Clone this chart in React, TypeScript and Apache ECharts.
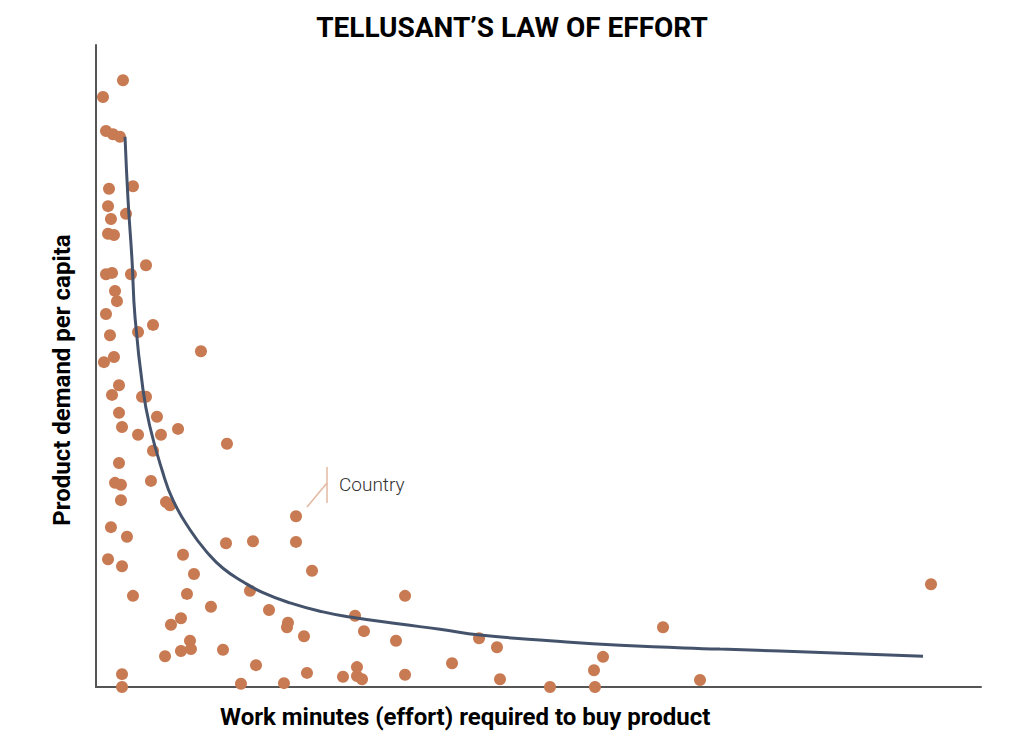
import { useEffect, useRef } from 'react'
import * as echarts from 'echarts'

// countries: work minutes (x) vs demand per capita (y), both on a 0-100 scale
const countryMinutes = [
  3.05, 0.79, 1.13, 1.92, 2.71, 4.18, 1.47, 1.36, 1.69, 3.39, 1.36, 2.03, 5.65, 1.13, 1.81, 3.95,
  2.15, 2.37, 1.13, 6.44, 1.58, 4.75, 11.86, 0.9, 2.03, 2.6, 1.81, 5.2, 5.65, 2.6, 6.89, 2.94,
  4.75, 7.34, 9.27, 6.44, 14.8, 2.6, 2.15, 2.82, 6.21, 2.82, 7.91, 8.36, 22.6, 1.69, 3.5, 14.69,
  17.74, 22.6, 1.36, 2.94, 9.83, 11.07, 24.41, 4.18, 10.28, 17.4, 12.99, 19.55, 34.92, 9.6, 8.47,
  21.69, 21.58, 29.27, 10.62, 9.6, 10.73, 7.8, 14.35, 23.5, 30.28, 33.9, 18.08, 2.94, 2.94, 16.38,
  21.24, 23.84, 27.91, 29.49, 29.49, 30.06, 34.92, 40.23, 43.28, 45.31, 45.65, 51.3, 56.38, 56.27,
  57.29, 64.07, 68.25, 94.35
]
const countryDemand = [
  94.5, 91.9, 86.6, 86.1, 85.7, 78.0, 77.6, 74.9, 72.9, 73.7, 70.6, 70.4, 65.7, 64.3, 64.5, 64.3,
  61.7, 60.1, 58.1, 56.4, 54.8, 55.3, 52.3, 50.6, 51.4, 47.0, 45.5, 45.2, 45.2, 42.7, 42.1, 40.5,
  39.3, 39.3, 40.2, 36.8, 37.9, 34.9, 31.8, 31.5, 32.1, 29.1, 28.8, 28.3, 26.6, 24.9, 23.4, 22.4,
  22.7, 22.6, 19.9, 18.8, 20.6, 17.6, 18.1, 14.2, 14.5, 15.0, 12.5, 12.0, 14.2, 10.7, 9.7,
  10.0, 9.3, 11.1, 7.2, 5.6, 5.9, 4.8, 5.8, 7.9, 8.7, 7.2, 3.4, 2.0, 0, 0.5,
  0.6, 2.2, 1.6, 3.1, 1.7, 1.2, 1.9, 3.7, 7.6, 6.2, 1.2, 0, 0, 2.6,
  4.7, 9.3, 1.1, 16.0
]

// law of effort curve
const curveMinutes = [
  3.28, 3.62, 4.07, 4.41, 5.31, 6.1, 7.46, 8.7, 10.62, 12.54, 14.35, 16.61, 18.87, 21.92, 25.65,
  28.7, 34.35, 38.87, 43.39, 51.3, 59.21, 70.51, 77.29, 93.45
]
const curveDemand = [
  85.7, 75.9, 66.5, 57.6, 46.3, 40.5, 33.8, 29.1, 24.5, 21.0, 18.5, 16.4, 14.7, 13.1, 11.7,
  10.9, 9.8, 9.0, 8.1, 7.2, 6.5, 5.9, 5.6, 4.8
]

const titleText = 'TELLUSANT’S LAW OF EFFORT'
const xName = 'Work minutes (effort) required to buy product'
const yName = 'Product demand per capita'
const noteText = 'Country'

export default function App() {
  const chartRef = useRef<HTMLDivElement>(null)

  useEffect(() => {
    if (!chartRef.current) return
    const chart = echarts.init(chartRef.current, null, { renderer: 'svg' })

    const dots = countryMinutes.map((x, i) => [x, countryDemand[i]])
    const curve = curveMinutes.map((x, i) => [x, curveDemand[i]])

    const axisBase = {
      type: 'value' as const,
      min: 0,
      max: 100,
      axisLine: { show: true, lineStyle: { color: '#555', width: 2 } },
      axisTick: { show: false },
      axisLabel: { show: false },
      splitLine: { show: false }
    }

    chart.setOption({
      animation: false,
      textStyle: { fontFamily: 'Roboto' },
      title: {
        text: titleText,
        left: 'center',
        top: 8,
        textStyle: { fontSize: 28, fontWeight: 'bold', color: '#000', fontFamily: 'Roboto' }
      },
      grid: { left: 96, right: 43, top: 45, bottom: 61 },
      xAxis: { ...axisBase },
      yAxis: {
        ...axisBase,
        name: yName,
        nameLocation: 'middle',
        nameGap: 22,
        nameTextStyle: { fontSize: 24, fontWeight: 'bold', color: '#000', fontFamily: 'Roboto', padding: [0, 28, 0, 0] }
      },
      graphic: [
        {
          type: 'text',
          left: 220,
          top: 705,
          style: { text: xName, fontSize: 24, fontWeight: 'bold', fill: '#000', fontFamily: 'Roboto' }
        },
        {
          type: 'line',
          shape: { x1: 327, y1: 467, x2: 327, y2: 503 },
          style: { stroke: '#e3b9a0', lineWidth: 1.5 }
        },
        {
          type: 'line',
          shape: { x1: 307, y1: 507, x2: 327, y2: 483 },
          style: { stroke: '#e3b9a0', lineWidth: 1.5 }
        },
        {
          type: 'text',
          left: 339,
          top: 475,
          style: { text: noteText, fontSize: 19, fontWeight: 300, fill: '#333', fontFamily: 'Roboto' }
        }
      ],
      series: [
        {
          type: 'scatter',
          data: dots,
          symbolSize: 12,
          clip: false,
          itemStyle: { color: '#c87a52', opacity: 1 },
          z: 2
        },
        {
          type: 'line',
          data: curve,
          smooth: 0.5,
          showSymbol: false,
          lineStyle: { color: '#44536b', width: 3 },
          z: 3
        }
      ]
    })

    return () => {
      chart.dispose()
    }
  }, [])

  return (
    <div
      ref={chartRef}
      style={{ position: 'absolute', left: 0, top: 0, width: 1024, height: 748, background: '#fff' }}
    />
  )
}
